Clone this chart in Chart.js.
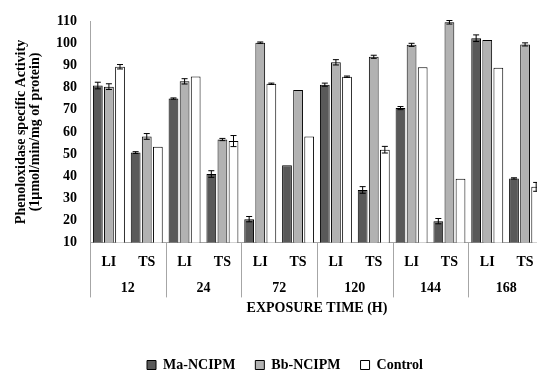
<!DOCTYPE html>
<html>
<head>
<meta charset="utf-8">
<script src="https://cdn.jsdelivr.net/npm/chart.js@4.4.1/dist/chart.umd.min.js"></script>
<style>
  html, body { margin: 0; padding: 0; background: #fff; overflow: hidden; }
  #wrap { width: 570px; height: 375px; }
</style>
</head>
<body>
<div id="wrap"><canvas id="grafico" width="570" height="375"></canvas></div>
<script>
  // categorias (nível interno e nível externo do eixo x)
  const categorias = ["LI", "TS", "LI", "TS", "LI", "TS", "LI", "TS", "LI", "TS", "LI", "TS"];
  const grupos = ["12", "24", "72", "120", "144", "168"];

  // valores
  const maNcipm = [81, 50.7, 75.1, 41, 20.6, 45, 81.4, 33.8, 70.8, 19.7, 102.4, 39];
  const bbNcipm = [80.5, 58, 82.9, 56.6, 100.4, 79, 91.5, 94, 99.4, 109.6, 101.6, 99.6];
  const controle = [89.5, 53.3, 85.1, 55.9, 81.8, 58, 85, 52, 89.3, 38.9, 89, 35.2];

  // barras de erro
  const maErro = [1.5, 0.4, 0.3, 1.5, 1.2, 0, 0.7, 1.5, 0.7, 1.2, 1.5, 0.3];
  const bbErro = [1.3, 1.3, 1.2, 0.5, 0.3, 0, 1.2, 0.7, 0.7, 0.8, 0, 0.7];
  const controleErro = [1, 0, 0, 2.5, 0.3, 0, 0.3, 1.5, 0, 0, 0, 2];

  const yTicks = [10, 20, 30, 40, 50, 60, 70, 80, 90, 100, 110];

  const fonte = { family: "'Liberation Serif', 'Times New Roman', serif", weight: "bold", size: 14 };
  const cinzaEixo = "#a6a6a6";

  // desenha as barras de erro
  const errorBars = {
    id: "errorBars",
    afterDatasetsDraw(chart) {
      const ctx = chart.ctx;
      const y = chart.scales.y;
      chart.data.datasets.forEach((ds, i) => {
        const meta = chart.getDatasetMeta(i);
        meta.data.forEach((bar, j) => {
          const e = ds.erros[j];
          if (!e) return;
          const v = ds.data[j];
          const top = y.getPixelForValue(v + e);
          const bot = y.getPixelForValue(v - e);
          ctx.save();
          ctx.strokeStyle = "#000";
          ctx.lineWidth = 1;
          ctx.beginPath();
          ctx.moveTo(bar.x, top);
          ctx.lineTo(bar.x, bot);
          ctx.moveTo(bar.x - 3, top);
          ctx.lineTo(bar.x + 3, top);
          ctx.moveTo(bar.x - 3, bot);
          ctx.lineTo(bar.x + 3, bot);
          ctx.stroke();
          ctx.restore();
        });
      });
    },
  };

  // separadores do eixo x em dois níveis
  const separadores = {
    id: "separadores",
    afterDraw(chart) {
      const x = chart.scales.x;
      const x2 = chart.scales.x2;
      const meio = (x.getPixelForValue(1) - x.getPixelForValue(0)) / 2;
      const ctx = chart.ctx;
      ctx.save();
      ctx.strokeStyle = cinzaEixo;
      ctx.lineWidth = 1;
      for (let g = 0; g <= grupos.length; g++) {
        const px = Math.round(x.getPixelForValue(g * 2) - meio) + 0.5;
        ctx.beginPath();
        ctx.moveTo(px, x.top);
        ctx.lineTo(px, x2.top + 16);
        ctx.stroke();
      }
      ctx.restore();
    },
  };

  // legenda mais baixa e um pouco à direita
  const legendaBaixa = {
    id: "legendaBaixa",
    beforeLayout(chart) {
      const lg = chart.legend;
      if (lg && !lg._ajustada) {
        const fit = lg.fit;
        lg.fit = function () {
          fit.call(this);
          this.height -= 7;
        };
        lg._ajustada = true;
      }
    },
    afterLayout(chart) {
      chart.legend.left += 9;
      chart.legend.right += 9;
    },
  };

  const dados = {
    labels: categorias,
    datasets: [
      { label: "Ma-NCIPM", data: maNcipm, erros: maErro, backgroundColor: "#595959", borderColor: "#000", borderWidth: 1 },
      { label: "Bb-NCIPM", data: bbNcipm, erros: bbErro, backgroundColor: "#b2b2b2", borderColor: "#000", borderWidth: 1 },
      { label: "Control", data: controle, erros: controleErro, backgroundColor: "#ffffff", borderColor: "#000", borderWidth: 1 },
    ],
  };

  const config = {
    type: "bar",
    data: dados,
    options: {
      responsive: false,
      animation: false,
      categoryPercentage: 0.88,
      barPercentage: 0.88,
      layout: { padding: { top: 21, right: 26, left: 8, bottom: 0 } },
      scales: {
        x: {
          weight: 0,
          grid: { display: false, drawTicks: false },
          border: { color: cinzaEixo },
          ticks: { color: "#000", font: fonte, padding: 11, autoSkip: false, maxRotation: 0 },
        },
        x2: {
          type: "category",
          labels: grupos,
          position: "bottom",
          weight: 1,
          grid: { display: false, drawTicks: false },
          border: { display: false },
          ticks: { color: "#000", font: fonte, padding: -1, autoSkip: false, maxRotation: 0 },
          title: { display: true, text: "EXPOSURE TIME (H)", color: "#000", font: fonte, padding: { top: 4, bottom: 21 } },
        },
        y: {
          min: 10,
          max: 110,
          afterBuildTicks(axis) { axis.ticks = yTicks.map(v => ({ value: v })); },
          grid: { display: false, drawTicks: false },
          border: { color: cinzaEixo },
          ticks: { color: "#000", font: fonte, padding: 13 },
          title: {
            display: true,
            text: ["Phenoloxidase specific Activity", "(1µmol/min/mg of protein)"],
            color: "#000",
            font: { ...fonte, lineHeight: 1.0 },
            padding: { top: 6, bottom: 1 },
          },
        },
      },
      plugins: {
        legend: {
          position: "bottom",
          labels: { color: "#000", font: fonte, boxWidth: 9, boxHeight: 9, padding: 20 },
        },
        tooltip: { enabled: false },
      },
    },
    plugins: [errorBars, separadores, legendaBaixa],
  };

  const grafico = new Chart(document.getElementById("grafico"), config);
</script>
</body>
</html>
